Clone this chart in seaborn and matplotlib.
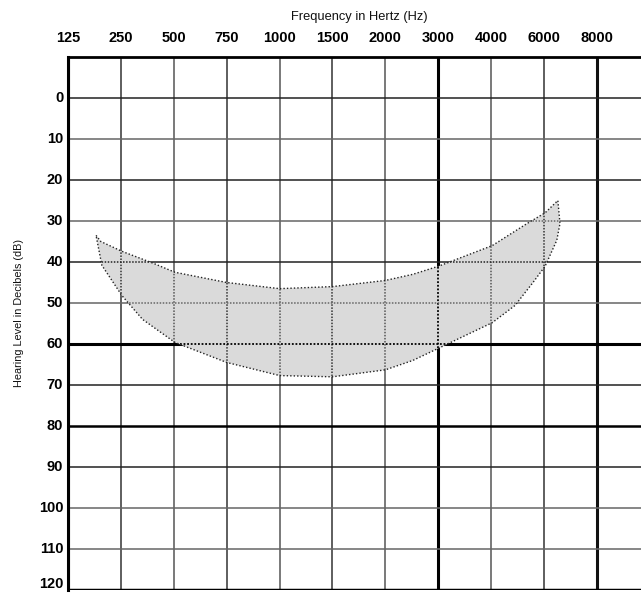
import matplotlib
matplotlib.use("Agg")
import matplotlib.pyplot as plt
from matplotlib.patches import Polygon
import seaborn as sns
import numpy as np
import pandas as pd

# ---- data ----
freq_labels = ["125", "250", "500", "750", "1000", "1500", "2000", "3000", "4000", "6000", "8000"]
db_ticks = [0, 10, 20, 30, 40, 50, 60, 70, 80, 90, 100, 110, 120]

# speech-banana style region: upper edge (left->right) then lower edge (right->left)
upper_pos = [0.53, 0.62, 1.02, 1.61, 2.02, 3.0, 4.0, 5.0, 6.0, 6.52, 7.01, 8.02, 8.68, 9.02, 9.26]
upper_db = [33.5, 35.0, 37.4, 40.3, 42.5, 45.0, 46.5, 46.0, 44.5, 43.0, 41.0, 36.0, 30.6, 28.0, 25.0]
lower_pos = [9.30, 9.24, 9.02, 8.79, 8.45, 8.02, 7.01, 6.52, 6.0, 5.0, 4.0, 3.0, 2.02, 1.41, 1.02, 0.64]
lower_db = [30.6, 34.7, 41.0, 45.0, 50.6, 54.8, 61.0, 64.0, 66.3, 68.0, 67.7, 64.5, 59.6, 54.0, 48.2, 40.8]

sns.set_theme(style="white")
plt.rcParams['font.family'] = ['Liberation Sans', 'DejaVu Sans']

fig = plt.figure(figsize=(6.41, 5.94), dpi=100)
ax = fig.add_axes([68 / 641, 4 / 594, 1 - 68 / 641, 533 / 594])

poly = pd.DataFrame({
    "pos": upper_pos + lower_pos + [upper_pos[0]],
    "db": upper_db + lower_db + [upper_db[0]],
})

# grid lines
v_styles = {0: ("#000000", 2.2), 7: ("#000000", 2.2), 10: ("#111111", 2.2)}
h_styles = {60: ("#000000", 2.2), 80: ("#000000", 1.8), 120: ("#000000", 2.5)}

def draw_grid(clip=None, dotted=False):
    for i, _ in enumerate(freq_labels):
        c, w = v_styles.get(i, ("#333333" if i % 2 else "#555555", 1.1))
        ln = ax.axvline(i, color=c, linewidth=min(w, 1.3) if dotted else w,
                        linestyle=(0, (1, 1)) if dotted else "-", zorder=3.5 if dotted else 2)
        if clip is not None:
            ln.set_clip_path(clip)
    for d in db_ticks:
        c, w = h_styles.get(d, ("#222222" if d in (0, 20, 40, 70, 90) else "#666666", 1.1))
        ln = ax.axhline(d, color=c, linewidth=min(w, 1.3) if dotted else w,
                        linestyle=(0, (1, 1)) if dotted else "-", zorder=3.5 if dotted else 2)
        if clip is not None:
            ln.set_clip_path(clip)

draw_grid()

# shaded region (opaque), then dotted grid lines visible through it
patches = ax.fill(poly["pos"], poly["db"], facecolor="#dadada", edgecolor="none", zorder=3)
clip_patch = Polygon(np.column_stack([poly["pos"], poly["db"]]), closed=True,
                     transform=ax.transData, facecolor="none", edgecolor="none")
ax.add_patch(clip_patch)
draw_grid(clip=clip_patch, dotted=True)

sns.lineplot(data=poly, x="pos", y="db", sort=False, ax=ax, color="#222222",
             linestyle=(0, (1, 1.5)), linewidth=1.0, zorder=4, estimator=None)

ax.set_xlim(0, (641 - 68) / 52.9)
ax.set_ylim(120, -10)
ax.set_xticks([])
ax.set_yticks([])
ax.set_xlabel("")
ax.set_ylabel("")
for s in ["right", "bottom"]:
    ax.spines[s].set_visible(False)
ax.spines["left"].set_color("black")
ax.spines["left"].set_linewidth(2.2)
ax.spines["top"].set_color("black")
ax.spines["top"].set_linewidth(2.0)

# top frequency labels
for i, lab in enumerate(freq_labels):
    ax.text(i, 1.035, lab, transform=ax.get_xaxis_transform(), ha="center", va="center",
            fontsize=10.5, fontweight="bold", color="#000000", clip_on=False)
# left dB labels
for d in db_ticks:
    yv = min(d, 118.6)
    ax.text(-0.09, yv, str(d), transform=ax.transData, ha="right", va="center",
            fontsize=10.5, fontweight="bold", color="#000000", clip_on=False)

fig.text(359 / 641, 1 - 17 / 594, "Frequency in Hertz (Hz)", ha="center", va="center",
         fontsize=9.3, color="#111111")
fig.text(19 / 641, 1 - 313 / 594, "Hearing Level in Decibels (dB)", ha="center", va="center",
         rotation=90, fontsize=7.8, color="#111111")

fig.savefig("out.png", dpi=100)
